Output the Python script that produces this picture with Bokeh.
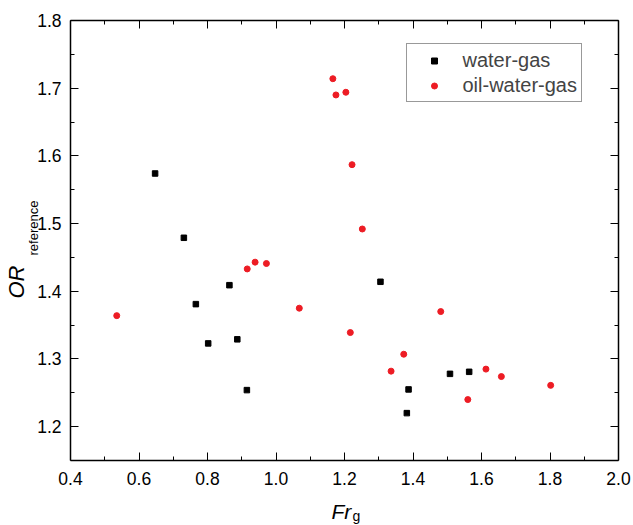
import math
from bokeh.plotting import figure
from bokeh.models import (LinearAxis, FixedTicker, PrintfTickFormatter, CustomJSTickFormatter,
                          Label, Legend, LegendItem, Range1d, ColumnDataSource)
from bokeh.embed import file_html
from bokeh.resources import INLINE

# ---- data ----
wg_fr = [0.647, 0.731, 0.766, 0.802, 0.864, 0.887, 0.915, 1.305, 1.387, 1.382, 1.508, 1.564]
wg_or = [1.574, 1.479, 1.381, 1.323, 1.409, 1.329, 1.254, 1.414, 1.255, 1.220, 1.278, 1.281]

owg_fr = [0.535, 0.916, 0.939, 0.972, 1.068, 1.166, 1.175, 1.204, 1.222, 1.252,
          1.217, 1.336, 1.373, 1.481, 1.560, 1.613, 1.658, 1.802]
owg_or = [1.364, 1.433, 1.443, 1.441, 1.375, 1.714, 1.690, 1.694, 1.587, 1.492,
          1.339, 1.282, 1.307, 1.370, 1.240, 1.285, 1.274, 1.261]

x_ticks = [0.4, 0.6, 0.8, 1.0, 1.2, 1.4, 1.6, 1.8, 2.0]
x_minor = [0.5, 0.7, 0.9, 1.1, 1.3, 1.5, 1.7, 1.9]
y_ticks = [1.2, 1.3, 1.4, 1.5, 1.6, 1.7, 1.8]
y_minor = [1.25, 1.35, 1.45, 1.55, 1.65, 1.75]

series_labels = ["water-gas", "oil-water-gas"]

FONT = "Liberation Sans"
RED = "#ED1C24"

p = figure(width=633, height=525,
           x_range=Range1d(0.4, 2.0), y_range=Range1d(1.15, 1.8),
           x_axis_type=None, y_axis_type=None,
           output_backend="svg", toolbar_location=None,
           min_border_left=70, min_border_right=14, min_border_top=20, min_border_bottom=65)
p.outline_line_color = None
p.background_fill_color = "white"
p.border_fill_color = "white"


def make_axis(ticks, minor, labels, standoff=0):
    ax = LinearAxis(ticker=FixedTicker(ticks=ticks, minor_ticks=minor))
    ax.axis_line_color = "black"
    ax.axis_line_width = 1.5
    ax.major_tick_line_color = "black"
    ax.minor_tick_line_color = "black"
    ax.major_tick_line_width = 1
    ax.minor_tick_line_width = 1
    ax.major_tick_in = 8
    ax.major_tick_out = 0
    ax.minor_tick_in = 4
    ax.minor_tick_out = 0
    if labels:
        ax.formatter = PrintfTickFormatter(format="%.1f")
        ax.major_label_text_font = FONT
        ax.major_label_text_font_size = "17.5px"
        ax.major_label_text_color = "black"
        ax.major_label_standoff = standoff
    else:
        ax.formatter = CustomJSTickFormatter(code="return ''")
        ax.major_label_text_font_size = "0px"
        ax.major_label_standoff = 0
    return ax


p.add_layout(make_axis(x_ticks, x_minor, True, 11), "below")
p.add_layout(make_axis(y_ticks, y_minor, True, 9), "left")
p.add_layout(make_axis(x_ticks, x_minor, False), "above")
p.add_layout(make_axis(y_ticks, y_minor, False), "right")

src_wg = ColumnDataSource(dict(x=wg_fr, y=wg_or))
src_owg = ColumnDataSource(dict(x=owg_fr, y=owg_or))
r1 = p.scatter("x", "y", source=src_wg, marker="square", size=5.5,
               fill_color="black", line_color="black", line_width=1)
r2 = p.scatter("x", "y", source=src_owg, marker="circle", size=6,
               fill_color=RED, line_color=RED, line_width=1)

legend = Legend(items=[LegendItem(label=series_labels[0], renderers=[r1]),
                       LegendItem(label=series_labels[1], renderers=[r2])],
                location=(335.5, 358))
legend.border_line_color = "#333333"
legend.border_line_width = 1
legend.padding = 4
legend.spacing = 1
legend.margin = 0
legend.glyph_width = 46
legend.glyph_height = 15
legend.label_height = 24
legend.label_standoff = 6
legend.label_text_font = FONT
legend.label_text_font_size = "20px"
legend.background_fill_color = "white"
legend.background_fill_alpha = 1
p.add_layout(legend)


# axis titles (with subscripts): labels in canvas pixels, each held in a side panel so it is not
# clipped to the plotting frame; anchored at the middle of the text line
def title_label(text, cx, cy, size, italic=False, angle=0.0):
    return Label(x=cx, y=cy, x_units="canvas", y_units="canvas", text=text, angle=angle,
                 text_font=FONT, text_font_size=size,
                 text_font_style="italic" if italic else "normal",
                 text_align="left", text_baseline="middle", text_color="black")


p.add_layout(title_label("OR", 16, 298, "22px", True, math.pi / 2), "left")
p.add_layout(title_label("reference", 32.5, 255, "13px", False, math.pi / 2), "right")
p.add_layout(title_label("Fr", 331, 510.5, "21px", True), "below")
p.add_layout(title_label("g", 352, 515.5, "14px", False), "above")

open("out.html", "w").write(file_html(p, INLINE))
